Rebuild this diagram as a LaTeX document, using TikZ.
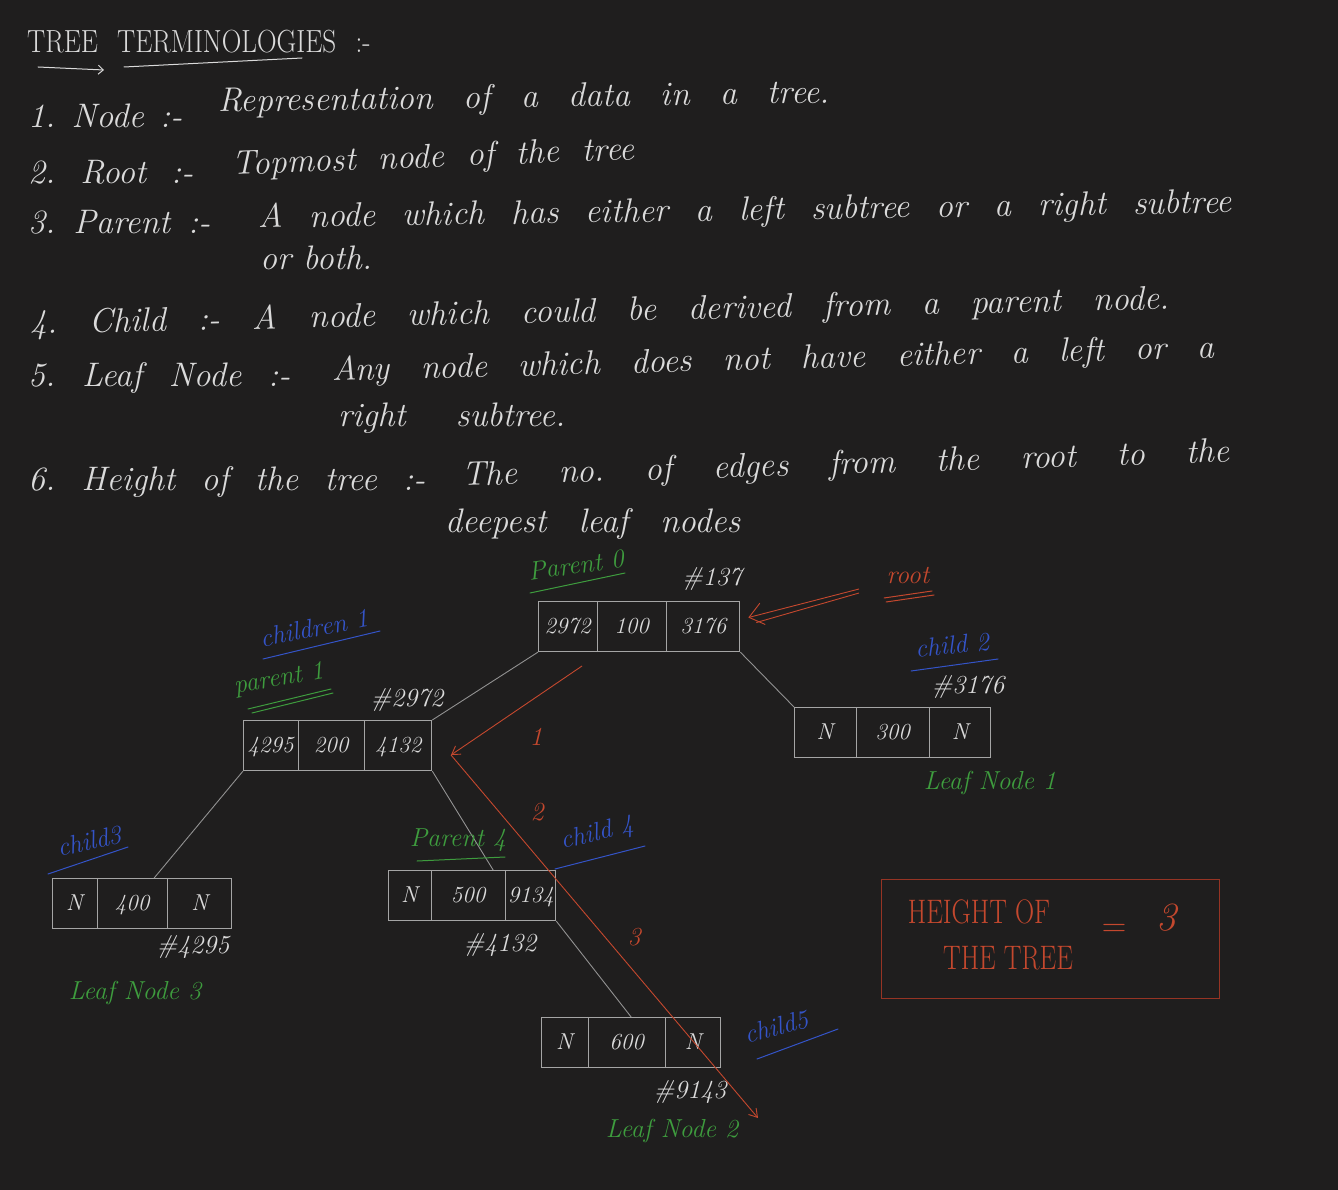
\documentclass[tikz,border=0pt]{standalone}
\usepackage{tikz}
\usetikzlibrary{arrows.meta,positioning,shapes.multipart}
\definecolor{board}{RGB}{31,30,30}
\definecolor{chalk}{RGB}{218,218,218}
\definecolor{chalkgrey}{RGB}{145,145,145}
\definecolor{boxgrey}{RGB}{165,165,165}
\definecolor{penGreen}{RGB}{62,156,62}
\definecolor{penBlue}{RGB}{52,84,200}
\definecolor{penRed}{RGB}{196,72,46}
\definecolor{boxRed}{RGB}{150,52,36}
\newcommand{\hand}[1]{\fontsize{#1}{#1}\selectfont\itshape\frenchspacing}
\newcommand{\memslot}[2]{\makebox[#1pt]{\vrule width 0pt height 32pt depth 18pt #2}}
\tikzset{
  every node/.style={inner sep=0pt, text=chalk},
  txtline/.style={anchor=base west, font=\hand{34}},
  mem/.style={rectangle split, rectangle split horizontal, rectangle split parts=3,
    draw=boxgrey, line width=1.1pt, inner sep=0pt, anchor=north west, font=\hand{23}},
  tag/.style={font=\hand{26}},
  green tag/.style={tag, text=penGreen},
  blue tag/.style={tag, text=penBlue},
  red tag/.style={tag, text=penRed},
  link/.style={draw=chalkgrey, line width=0.9pt},
  redpath/.style={draw=penRed, line width=0.9pt, -{Straight Barb[length=8pt,width=10pt]}},
  uline/.style={line width=1pt, line cap=round}
}
\begin{document}
\begin{tikzpicture}[x=1pt, y=-1pt]
  \fill[board] (0,0) rectangle (1338,1190);
  \useasboundingbox (0,0) rectangle (1338,1190);

  % terminologies
  \node[anchor=base west, font=\fontsize{32}{32}\selectfont, xscale=0.85] (title) at (27,53)
    {\makebox[404pt][s]{TREE TERMINOLOGIES :-}};
  \draw[chalk, uline, -{Straight Barb[length=5pt,width=9pt]}] (38,67) -- (104,70);
  \draw[chalk, uline] (124,67) -- (302,58);

  \node[txtline] (l1) at (28,128) {\makebox[154pt][s]{1. Node :-}};
  \node[txtline, rotate=0.85] (d1) at (218,112) {\makebox[612pt][s]{Representation of a data in a tree.}};
  \node[txtline] (l2) at (28,184) {\makebox[165pt][s]{2. Root :-}};
  \node[txtline, rotate=2.2] (d2) at (232,175) {\makebox[403pt][s]{Topmost node of the tree}};
  \node[txtline] (l3) at (28,234) {\makebox[182pt][s]{3. Parent :-}};
  \node[txtline, rotate=0.9] (d3) at (258,228) {\makebox[974pt][s]{A node which has either a left subtree or a right subtree}};
  \node[txtline] (d3b) at (260,270) {or both.};
  \node[txtline, rotate=1.25] (l4) at (30,334) {\makebox[1140pt][s]{4. Child :- A node which could be derived from a parent node.}};
  \node[txtline] (l5) at (28,386) {\makebox[262pt][s]{5. Leaf Node :-}};
  \node[txtline, rotate=1.5] (d5) at (332,381) {\makebox[883pt][s]{Any node which does not have either a left or a}};
  \node[txtline] (d5b) at (338,426) {\makebox[227pt][s]{right subtree.}};
  \node[txtline] (l6) at (28,490) {\makebox[397pt][s]{6. Height of the tree :-}};
  \node[txtline, rotate=1.8] (d6) at (462,486) {\makebox[768pt][s]{The no. of edges from the root to the}};
  \node[txtline] (d6b) at (445,532) {\makebox[295pt][s]{deepest leaf nodes}};

  % tree
  \node[mem] (r) at (538,601) {\memslot{58}{2972}\nodepart{two}\memslot{68}{100}\nodepart{three}\memslot{73}{3176}};
  \node[mem] (n1) at (243,720) {\memslot{54}{4295}\nodepart{two}\memslot{65}{200}\nodepart{three}\memslot{67}{4132}};
  \node[mem] (n2) at (794,707) {\memslot{61}{N}\nodepart{two}\memslot{72}{300}\nodepart{three}\memslot{61}{N}};
  \node[mem] (n3) at (52,878) {\memslot{44}{N}\nodepart{two}\memslot{69}{400}\nodepart{three}\memslot{64}{N}};
  \node[mem] (n4) at (388,870) {\memslot{42}{N}\nodepart{two}\memslot{73}{500}\nodepart{three}\memslot{50}{9134}};
  \node[mem] (n5) at (541,1017) {\memslot{46}{N}\nodepart{two}\memslot{76}{600}\nodepart{three}\memslot{55}{N}};

  \draw[link] (r.south west) -- (n1.north east);
  \draw[link] (r.south east) -- (n2.north west);
  \draw[link] (n1.south west) -- ([xshift=12pt]n3.north);
  \draw[link] (n1.south east) -- ([xshift=21pt]n4.north);
  \draw[link] (n4.south east) -- (n5.north);

  % addresses
  \node[tag] (a0) at (712,579) {\#137};
  \node[tag] (a1) at (407,700) {\#2972};
  \node[tag] (a2) at (968,687) {\#3176};
  \node[tag] (a3) at (193,947) {\#4295};
  \node[tag] (a4) at (500,945) {\#4132};
  \node[tag] (a5) at (690,1092) {\#9143};

  % names
  \node[green tag, rotate=8] (p0) at (576,565) {Parent 0};
  \draw[penGreen, uline] (530,593) -- (625,573);
  \node[red tag] (rootlbl) at (908,576) {root};
  \draw[penRed, uline] (884,598) -- (932,591);
  \draw[penRed, uline] (886,602) -- (934,595);
  \coordinate (rootTail) at (859,589);
  \draw[penRed, line width=0.9pt, -{Straight Barb[length=14pt,width=22pt]}] (rootTail) -- ([shift={(8pt,9pt)}]r.east);
  \draw[penRed, line width=0.9pt] ([yshift=-4pt]rootTail) -- ([shift={(16pt,4pt)}]r.east);
  \node[blue tag, rotate=11] (c1) at (314,628) {children 1};
  \draw[penBlue, uline] (263,659) -- (380,631);
  \node[green tag, rotate=10] (p1) at (279,680) {parent 1};
  \draw[penGreen, uline] (248,709) -- (331,689);
  \draw[penGreen, uline] (252,713) -- (333,693);
  \node[blue tag, rotate=6] (c2) at (952,645) {child 2};
  \draw[penBlue, uline] (911,671) -- (998,659);
  \node[green tag] (lf1) at (990,783) {Leaf Node 1};
  \node[blue tag, rotate=13] (c3) at (89,841) {child3};
  \draw[penBlue, uline] (48,874) -- (128,847);
  \node[green tag] (p4) at (458,840) {Parent 4};
  \draw[penGreen, uline] (417,861) -- (505,857);
  \node[blue tag, rotate=13] (c4) at (597,834) {child 4};
  \draw[penBlue, uline] (555,869) -- (645,846);
  \node[green tag] (lf3) at (135,993) {Leaf Node 3};
  \node[blue tag, rotate=15] (c5) at (776,1027) {child5};
  \draw[penBlue, uline] (757,1059) -- (838,1029);
  \node[green tag] (lf2) at (672,1131) {Leaf Node 2};

  % height path
  \coordinate (h0) at (582,666);
  \coordinate (h1) at (451,755);
  \coordinate (h2) at (758,1118);
  \draw[redpath] (h0) -- (h1);
  \draw[redpath] (h1) -- (h2);
  \node[red tag] (e1) at (536,737) {1};
  \node[red tag] (e2) at (537,812) {2};
  \node[red tag] (e3) at (634,937) {3};

  \node[draw=boxRed, line width=1pt, minimum width=338pt, minimum height=119pt, anchor=north west] (hbox) at (881,879) {};
  \node[text=penRed, font=\fontsize{34}{34}\selectfont, xscale=0.78] (hgt1) at (979,912) {HEIGHT OF};
  \node[text=penRed, font=\fontsize{34}{34}\selectfont, xscale=0.78] (hgt2) at (1008,958) {THE TREE};
  \node[text=penRed, font=\fontsize{34}{34}\selectfont] (heq) at (1114,930) {=};
  \node[text=penRed, font=\hand{40}] (hval) at (1166,918) {3};
\end{tikzpicture}
\end{document}
